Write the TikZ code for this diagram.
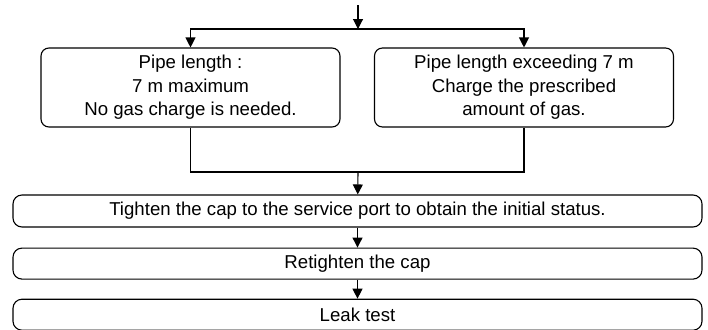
\documentclass[tikz,border=0pt]{standalone}
\usepackage{fontspec}
\setmainfont{Liberation Sans}
\usetikzlibrary{arrows.meta,positioning}
\tikzset{
  choice/.style={draw,rounded corners=8bp,align=center,minimum width=299bp,minimum height=79bp,inner sep=0pt,font=\fontsize{18.7}{23.5}\selectfont},
  stepwide/.style={draw,rounded corners=9bp,align=center,minimum width=689bp,minimum height=31bp,inner sep=0pt,font=\fontsize{18.7}{22}\selectfont},
  arrow/.style={-{Triangle[length=10bp,width=10bp]},line width=1.1bp},
  link/.style={line width=1.1bp}
}

\begin{document}
\begin{tikzpicture}[x=1bp,y=1bp,node distance=20bp,line width=1.1bp]
  \useasboundingbox (0,0) rectangle (708,-329);
  \coordinate (top) at (358,-5);
  \coordinate (split) at (358,-29);
  \node[choice] (short) at (190.5,-87.5) {Pipe length :\\7 m maximum\\No gas charge is needed.};
  \node[choice] (long) at (524,-87.5) {Pipe length exceeding 7 m\\Charge the prescribed\\amount of gas.};
  \coordinate (join) at (358,-172);
  \node[stepwide,minimum height=32bp] (tighten) at (357.5,-211) {Tighten the cap to the service port to obtain the initial status.};
  \node[stepwide,below=of tighten] (retighten) {Retighten the cap};
  \node[stepwide,below=19bp of retighten] (leak) {Leak test};
  \draw[arrow] (top) -- (split);
  \draw[arrow] (split) -| (short.north);
  \draw[arrow] (split) -| (long.north);
  \draw[link] (short.south) |- (join) -| (long.south);
  \draw[arrow] (join) -- (tighten);
  \draw[arrow] (tighten) -- (retighten);
  \draw[arrow] (retighten) -- (leak);
\end{tikzpicture}
\end{document}
